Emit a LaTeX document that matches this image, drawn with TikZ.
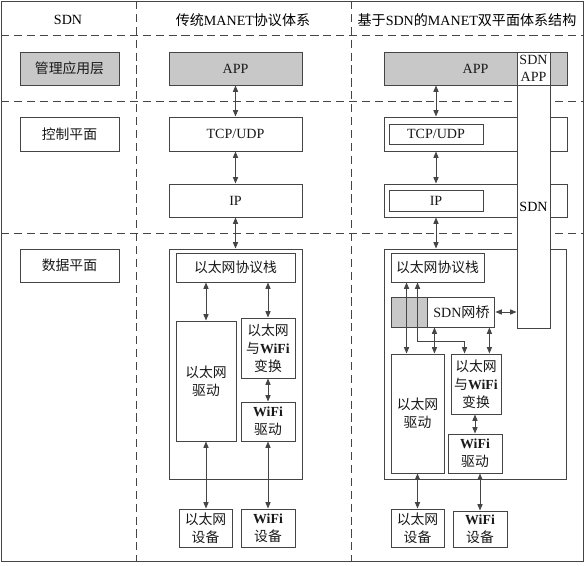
\documentclass[tikz,border=0pt]{standalone}
\usepackage{fontspec}
\setmainfont{Liberation Serif}
\newfontfamily\cjk{Noto Sans CJK SC}
\usetikzlibrary{arrows.meta, positioning, calc}
\definecolor{cline}{HTML}{454545}
\definecolor{cfill}{HTML}{C8C8C8}
\def\px{0.03cm}
\newcommand{\wifi}{{\rmfamily\bfseries WiFi}}
\tikzset{
  every picture/.style={font=\fontsize{12}{15}\selectfont, line width=0.8pt},
  box/.style={draw=cline, fill=#1, align=center, inner sep=1pt, text=black!90},
  box/.default=white,
  zh/.style={font=\cjk\fontsize{11.8}{15.5}\selectfont},
  wh/.style 2 args={minimum width=#1*\px, minimum height=#2*\px},
  arrow/.style={{Triangle[length=5.5pt,width=4.4pt]}-{Triangle[length=5.5pt,width=4.4pt]}, draw=cline, line width=0.85pt},
  sep/.style={draw=cline, dash pattern=on 7pt off 4pt},
}

\begin{document}
\begin{tikzpicture}[x=\px, y=-\px]
  \useasboundingbox (0,0) rectangle (587,566);
  % frame and separators
  \draw[cline] (1,1) rectangle (583,561);
  \draw[sep] (136,1) -- (136,561);
  \draw[sep] (351,1) -- (351,561);
  \foreach \yy in {35,101,233} \draw[sep] (1,\yy) -- (583,\yy);

  % headings
  \node (hsdn) at (68,20) {SDN};
  \node (hold) at (243,20) {{\cjk 传统}MANET{\cjk 协议体系}};
  \node (hnew) at (467,20) {{\cjk 基于}SDN{\cjk 的}MANET{\cjk 双平面体系结构}};

  % SDN layers
  \node[box=cfill, zh, wh={99}{33}] (mgmt) at (69.5,68.5) {管理应用层};
  \node[box, zh, wh={99}{34}] (ctrl) at (69.5,134) {控制平面};
  \node[box, zh, wh={99}{33}] (data) at (69.5,265.5) {数据平面};

  % traditional MANET stack
  \node[box=cfill, wh={133}{33}] (app1) at (235.5,68.5) {APP};
  \node[box, wh={133}{34}] (tcp1) at (235.5,134) {TCP/UDP};
  \node[box, wh={133}{33}] (ip1) at (235.5,200.5) {IP};
  \node[box, wh={133}{230}] (dp1) at (235.5,364) {};
  \node[box, zh, wh={119}{29}] (stack1) at (235.5,267.5) {以太网协议栈};
  \node[box, zh, wh={60}{120}] (eth1) at (206,381) {以太网\\驱动};
  \node[box, zh, wh={54}{60}] (conv1) at (268,348) {以太网\\与\wifi\\变换};
  \node[box, zh, wh={54}{39}] (wdrv1) at (268,421.5) {\wifi\\驱动};
  \node[box, zh, wh={53}{38}] (edev1) at (205.5,528) {以太网\\设备};
  \node[box, zh, wh={54}{38}] (wdev1) at (268,528) {\wifi\\设备};
  \draw[arrow] (app1) -- (tcp1);
  \draw[arrow] (tcp1) -- (ip1);
  \draw[arrow] (ip1) -- (dp1);
  \draw[arrow] (stack1.south -| eth1) -- (eth1);
  \draw[arrow] (stack1.south -| conv1) -- (conv1);
  \draw[arrow] (conv1) -- (wdrv1);
  \draw[arrow] (eth1.south) -- (eth1.south |- edev1.north);
  \draw[arrow] (wdrv1) -- (wdev1);

  % SDN based dual plane
  \node[box=cfill, wh={183}{33}] (app2) at (475.5,68.5) {APP};
  \node[box, wh={183}{34}] (tcp2) at (475.5,134) {};
  \node[box, wh={94}{20}] (tcp2in) at (436,134) {TCP/UDP};
  \node[box, wh={183}{33}] (ip2) at (475.5,200.5) {};
  \node[box, wh={94}{21}] (ip2in) at (436,200.5) {IP};
  \node[box, wh={182}{230}] (dp2) at (475,364) {};
  \node[box, wh={33}{276}] (sdn) at (533.5,190) {};
  \node[box, wh={33}{33}] (sdnapp) at (533.5,68.5) {SDN\\APP};
  \node (sdntxt) at (533.5,207) {SDN};
  \node[box, zh, wh={93}{29}] (stack2) at (437.5,267.5) {以太网协议栈};
  \node[box=cfill, wh={36}{30}] (brgsw) at (409,312) {};
  \node[box, wh={67}{30}, right=0pt of brgsw] (brg) {SDN{\cjk 网桥}};
  \node[box, zh, wh={53}{119}] (eth2) at (417.5,413.5) {以太网\\驱动};
  \node[box, zh, wh={50}{60}] (conv2) at (476,384) {以太网\\与\wifi\\变换};
  \node[box, zh, wh={54}{39}] (wdrv2) at (475,453.5) {\wifi\\驱动};
  \node[box, zh, wh={53}{38}] (edev2) at (417.5,528) {以太网\\设备};
  \node[box, zh, wh={54}{36}] (wdev2) at (480,529) {\wifi\\设备};
  \draw[arrow] (app2.south -| tcp2in) -- (tcp2.north -| tcp2in);
  \draw[arrow] (tcp2.south -| tcp2in) -- (ip2.north -| tcp2in);
  \draw[arrow] (ip2.south -| tcp2in) -- (dp2.north -| tcp2in);
  \draw[arrow] ([xshift=16*\px]stack2.south west) -- ([xshift=16*\px]eth2.north west);
  \draw[arrow] ([xshift=27*\px]stack2.south west) -- ++(0,59) -| ([xshift=14*\px]conv2.north west);
  \draw[arrow] ([xshift=7*\px]brg.south west) -- ([xshift=7*\px]brg.south west |- eth2.north);
  \draw[arrow] ([xshift=-6*\px]brg.south east) -- ([xshift=-6*\px]brg.south east |- conv2.north);
  \draw[arrow] (brg.east) -- (brg.east -| sdn.west);
  \draw[arrow] (conv2.south -| wdrv2) -- (wdrv2);
  \draw[arrow] (eth2) -- (edev2);
  \draw[arrow] (wdrv2.south -| wdev2) -- (wdev2);
\end{tikzpicture}
\end{document}
